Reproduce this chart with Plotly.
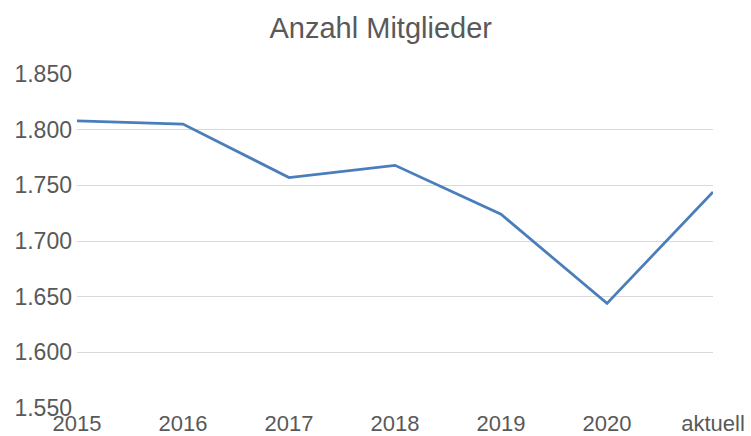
import plotly.graph_objects as go

categories = ["2015", "2016", "2017", "2018", "2019", "2020", "aktuell"]
members = [1808, 1805, 1757, 1768, 1724, 1644, 1744]
y_ticks = [1550, 1600, 1650, 1700, 1750, 1800, 1850]

fig = go.Figure()
fig.add_trace(go.Scatter(
    x=categories, y=members, mode="lines",
    line=dict(color="#4A7EBB", width=2.75),
    hoverinfo="skip", showlegend=False,
))

fig.update_layout(
    width=751, height=436,
    margin=dict(l=77, r=38, t=74, b=28, autoexpand=False),
    paper_bgcolor="white", plot_bgcolor="white",
    separators=",.",
    font=dict(family="Liberation Sans, Arial, sans-serif", size=23, color="#595959"),
    title=dict(text="Anzahl Mitglieder", x=0.507, xanchor="center",
               y=0.935, yanchor="middle", yref="container",
               font=dict(size=29, color="#595959")),
    xaxis=dict(
        type="category", range=[0, 6], automargin=False,
        showgrid=False, zeroline=False, showline=False,
        ticks="", ticklabelstandoff=0, tickfont=dict(size=22),
    ),
    yaxis=dict(
        range=[1550, 1850], tickvals=y_ticks, tickformat=",.0f",
        automargin=False,
        showgrid=True, gridcolor="#D9D9D9", gridwidth=1,
        zeroline=False, showline=False, ticks="",
        ticklabelstandoff=4,
    ),
)

fig.write_html(
    "out.html",
    config={"displayModeBar": False},
    post_script="document.body.style.margin='0';document.body.style.overflow='hidden';",
)
